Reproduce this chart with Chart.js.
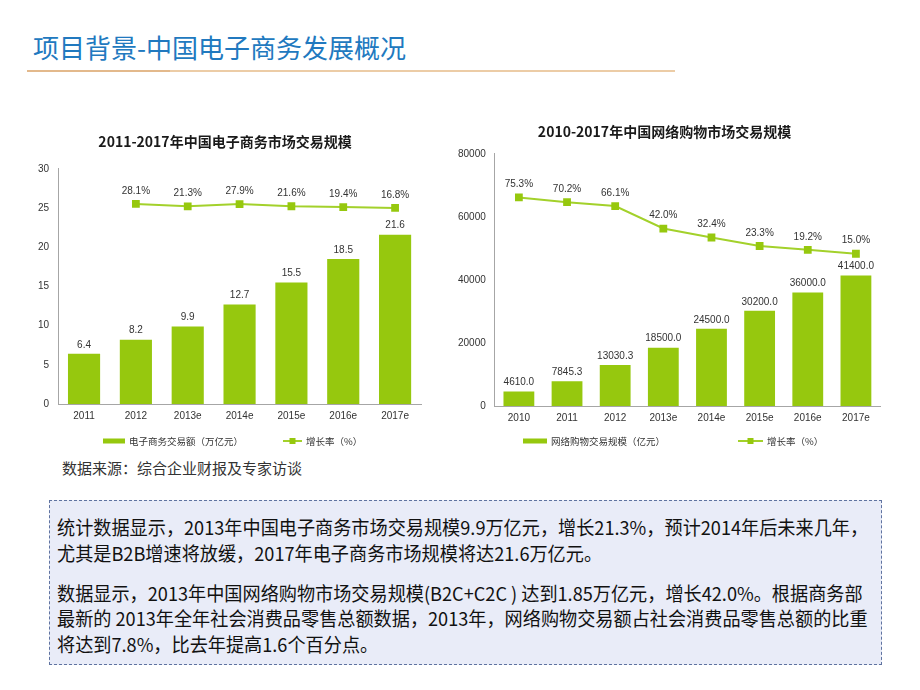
<!DOCTYPE html>
<html lang="zh-CN">
<head>
  <meta charset="UTF-8">
  <title>项目背景-中国电子商务发展概况</title>
  <script src="https://cdn.jsdelivr.net/npm/chart.js"></script>
  <style>
    html, body { margin: 0; padding: 0; background: #fff; }
    body { width: 920px; height: 690px; position: relative; overflow: hidden;
           font-family: "Noto Sans CJK SC", "Noto Sans", sans-serif; color: #333; }
    .slide-title { position: absolute; left: 33px; top: 29px; margin: 0;
                   font-size: 26px; font-weight: normal; line-height: 36px; color: #2179bf; }
    .rule { position: absolute; left: 27px; top: 70px; width: 648px; height: 2px;
            background: linear-gradient(to right, #e3b98c 0, #e3b98c 22%, #eccca6 22%, #eccca6 100%); }
    canvas { position: absolute; }
    #ecom-chart { left: 20px; top: 118px; }
    #shop-chart { left: 440px; top: 108px; }
    .legend-item { position: absolute; font-size: 9.5px; line-height: 12px; color: #333; white-space: nowrap; }
    .sw { position: absolute; }
    .source { position: absolute; left: 62px; top: 457px; margin: 0; font-size: 15px; line-height: 22px; color: #333; }
    .note { position: absolute; left: 49px; top: 500px; width: 831px; height: 163px;
            border: 1px dashed #5f73a0; background: #e9ecf8; }
    .note-text { position: absolute; left: 7px; top: 13px; transform-origin: left top;
                 font-size: 19px; line-height: 25.5px; color: #111; white-space: nowrap; }
    .note-text p { margin: 0 0 14.5px 0; }
  </style>
</head>
<body>
  <h1 class="slide-title">项目背景-中国电子商务发展概况</h1>
  <div class="rule"></div>

  <canvas id="ecom-chart" width="420" height="317"></canvas>
  <canvas id="shop-chart" width="460" height="329"></canvas>
  <div id="legends"></div>

  <p class="source">数据来源：综合企业财报及专家访谈</p>

  <div class="note">
    <div class="note-text" id="note-text">
      <p>统计数据显示，2013年中国电子商务市场交易规模9.9万亿元，增长21.3%，预计2014年后未来几年，<br>尤其是B2B增速将放缓，2017年电子商务市场规模将达21.6万亿元。</p>
      <p>数据显示，2013年中国网络购物市场交易规模(B2C+C2C ) 达到1.85万亿元，增长42.0%。根据商务部<br>最新的 2013年全年社会消费品零售总额数据，2013年，网络购物交易额占社会消费品零售总额的比重<br>将达到7.8%，比去年提高1.6个百分点。</p>
    </div>
  </div>

  <script>
    // data
    const ecomYears  = ['2011', '2012', '2013e', '2014e', '2015e', '2016e', '2017e'];
    const ecomVolume = [6.4, 8.2, 9.9, 12.7, 15.5, 18.5, 21.6];          // 万亿元
    const ecomGrowth = [null, 28.1, 21.3, 27.9, 21.6, 19.4, 16.8];       // %
    const ecomTickMax = 30, ecomTickStep = 5;

    const shopYears  = ['2010', '2011', '2012', '2013e', '2014e', '2015e', '2016e', '2017e'];
    const shopVolume = [4610.0, 7845.3, 13030.3, 18500.0, 24500.0, 30200.0, 36000.0, 41400.0]; // 亿元
    const shopGrowth = [75.3, 70.2, 66.1, 42.0, 32.4, 23.3, 19.2, 15.0]; // %
    const shopTickMax = 80000, shopTickStep = 20000;

    const GREEN = '#96c80e';
    const LINE_GREEN = '#a3d12b';
    const LATIN = '"Liberation Sans", Arial, sans-serif';
    const CJK = '"Noto Sans CJK SC", sans-serif';

    // value labels above bars and points
    function valueLabels(offsets) {
      return {
        id: 'valueLabels',
        afterDatasetsDraw(chart) {
          const ctx = chart.ctx;
          ctx.save();
          ctx.font = '10px ' + LATIN;
          ctx.fillStyle = '#333';
          ctx.textAlign = 'center';
          ctx.textBaseline = 'bottom';
          chart.data.datasets.forEach((ds, i) => {
            chart.getDatasetMeta(i).data.forEach((el, j) => {
              const v = ds.data[j];
              if (v === null || v === undefined) return;
              const txt = v.toFixed(1) + (ds.type === 'line' ? '%' : '');
              ctx.fillText(txt, el.x, el.y - offsets[i]);
            });
          });
          ctx.restore();
        }
      };
    }

    function makeChart(id, opts) {
      return new Chart(document.getElementById(id), {
        type: 'bar',
        data: {
          labels: opts.labels,
          datasets: [
            { type: 'bar', label: opts.barLabel, data: opts.bars, backgroundColor: GREEN,
              barPercentage: opts.barPct, categoryPercentage: 1, order: 1 },
            { type: 'line', label: '增长率（%）', data: opts.growth, yAxisID: 'y2',
              borderColor: LINE_GREEN, borderWidth: 2, pointStyle: 'rect', pointRadius: 5.5,
              pointBackgroundColor: GREEN, pointBorderWidth: 0, order: 0 }
          ]
        },
        options: {
          responsive: false,
          animation: false,
          layout: { padding: opts.padding },
          plugins: {
            legend: { display: false },
            tooltip: { enabled: false },
            title: {
              display: true, text: opts.title, color: '#1a1a1a',
              font: { family: CJK, size: 14, weight: 'bold' },
              padding: opts.titlePad
            }
          },
          scales: {
            x: {
              grid: { display: false, drawTicks: false },
              border: { color: '#a6a6a6' },
              ticks: { color: '#333', font: { family: LATIN, size: 10 }, padding: 6 }
            },
            y: {
              min: 0, max: opts.max,
              grid: { display: false, drawTicks: false },
              border: { color: '#a6a6a6' },
              ticks: { stepSize: opts.step, color: '#333', font: { family: LATIN, size: 10 }, padding: 9,
                       callback: v => String(v) }
            },
            y2: { display: false, min: opts.y2[0], max: opts.y2[1] }
          }
        },
        plugins: [valueLabels([4, 8])]
      });
    }

    const ecomChart = makeChart('ecom-chart', {
      labels: ecomYears, bars: ecomVolume, growth: ecomGrowth,
      barLabel: '电子商务交易额（万亿元）', barPct: 0.62,
      title: '2011-2017年中国电子商务市场交易规模',
      max: ecomTickMax, step: ecomTickStep, y2: [-540, 128],
      padding: { left: 9, right: 19, top: 0, bottom: 7 },
      titlePad: { top: 15, bottom: 19 }
    });

    const shopChart = makeChart('shop-chart', {
      labels: shopYears, bars: shopVolume, growth: shopGrowth,
      barLabel: '网络购物交易规模（亿元）', barPct: 0.64,
      title: '2010-2017年中国网络购物市场交易规模',
      max: shopTickMax, step: shopTickStep, y2: [-148, 122],
      padding: { left: 9, right: 20, top: 0, bottom: 7 },
      titlePad: { top: 15, bottom: 14 }
    });

    // legends built from dataset labels
    function addLegend(chart, spots, y) {
      const host = document.getElementById('legends');
      chart.data.datasets.forEach((ds, i) => {
        const s = spots[i];
        const sw = document.createElement('canvas');
        sw.className = 'sw';
        sw.width = s.w; sw.height = 8;
        sw.style.left = s.x + 'px';
        sw.style.top = (y - 4) + 'px';
        const g = sw.getContext('2d');
        if (ds.type === 'bar') {
          g.fillStyle = GREEN;
          g.fillRect(0, 1.5, s.w, 5);
        } else {
          g.fillStyle = LINE_GREEN;
          g.fillRect(0, 3, s.w, 2);
          g.fillStyle = GREEN;
          g.fillRect(s.w / 2 - 3, 1, 6, 6);
        }
        host.appendChild(sw);
        const t = document.createElement('div');
        t.className = 'legend-item';
        t.textContent = ds.label;
        t.style.left = (s.x + s.w + 4) + 'px';
        t.style.top = (y - 6) + 'px';
        host.appendChild(t);
      });
    }
    addLegend(ecomChart, [{ x: 103, w: 22 }, { x: 283, w: 19 }], 441);
    addLegend(shopChart, [{ x: 523, w: 24 }, { x: 738, w: 25 }], 441);

    // squeeze the note text to the narrow look of the original
    const note = document.getElementById('note-text');
    note.style.transform = 'scaleX(' + (811 / note.scrollWidth).toFixed(4) + ')';
  </script>
</body>
</html>
